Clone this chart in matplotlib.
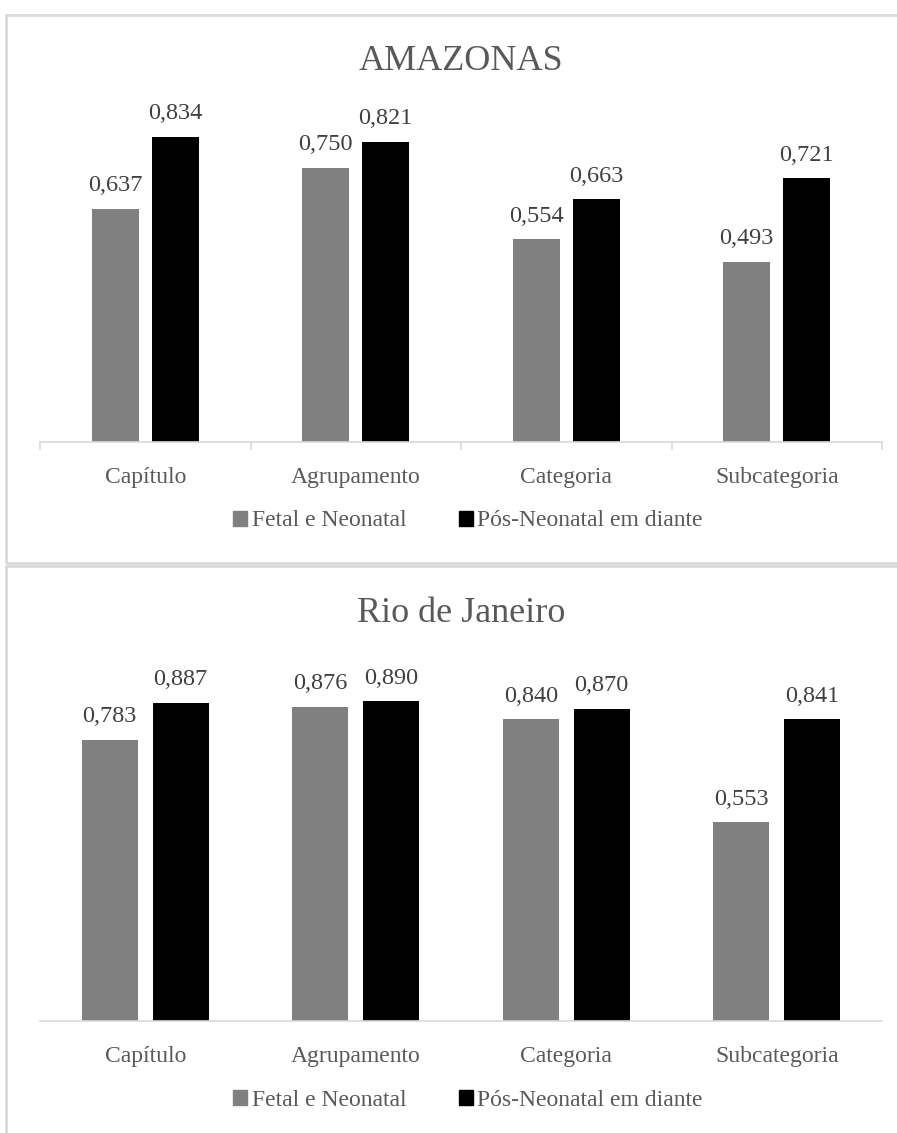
import matplotlib
matplotlib.use("Agg")
import matplotlib.pyplot as plt
from matplotlib.patches import Patch, Rectangle
import numpy as np

plt.rcParams['font.family'] = ['Liberation Serif', 'DejaVu Serif']

categories = ["Capítulo", "Agrupamento", "Categoria", "Subcategoria"]
series_names = ["Fetal e Neonatal", "Pós-Neonatal em diante"]
amazonas_fetal = [0.637, 0.750, 0.554, 0.493]
amazonas_pos = [0.834, 0.821, 0.663, 0.721]
rio_fetal = [0.783, 0.876, 0.840, 0.553]
rio_pos = [0.887, 0.890, 0.870, 0.841]
titles = ["AMAZONAS", "Rio de Janeiro"]

W, H = 897, 1133
fig = plt.figure(figsize=(W / 100, H / 100), dpi=100)

TXT = "#595959"
VAL = "#404040"
GRID = "#d9d9d9"
colors = ["#808080", "#000000"]

def fx(px):
    return px / W

def fy(py):
    return 1 - py / H

# panel frames
fig.patches.append(Rectangle((fx(6), fy(563)), fx(920) - fx(6), fy(15) - fy(563),
                             transform=fig.transFigure, fill=False, ec=GRID, lw=2, zorder=0))
fig.patches.append(Rectangle((fx(6), fy(1150)), fx(920) - fx(6), fy(566) - fy(1150),
                             transform=fig.transFigure, fill=False, ec=GRID, lw=2, zorder=0))

panels = [
    dict(data=(amazonas_fetal, amazonas_pos), base=442, k=366, width=0.223, gap=0.062,
         title_y=61, legend_y=521, ticks=True),
    dict(data=(rio_fetal, rio_pos), base=1021, k=359, width=0.266, gap=0.071,
         title_y=614, legend_y=1100, ticks=False),
]

x = np.arange(len(categories))
for p, title in zip(panels, titles):
    ax = fig.add_axes([fx(40), fy(p['base']), fx(882) - fx(40), p['k'] / H])
    ax.set_xlim(-0.5, len(categories) - 0.5)
    ax.set_ylim(0, 1)
    w, g = p['width'], p['gap']
    offs = [-(w + g) / 2, (w + g) / 2]
    for vals, off, c in zip(p['data'], offs, colors):
        bars = ax.bar(x + off, vals, width=w, color=c, zorder=2)
        for b, v in zip(bars, vals):
            ax.annotate(f"{v:.3f}".replace(".", ","),
                        (b.get_x() + b.get_width() / 2, b.get_height()),
                        xytext=(0, 9), textcoords="offset points",
                        ha="center", va="bottom", fontsize=17.5, color=VAL)
    for s in ["top", "right", "left"]:
        ax.spines[s].set_visible(False)
    ax.spines["bottom"].set_color(GRID)
    ax.spines["bottom"].set_linewidth(1.2)
    ax.set_yticks([])
    ax.set_xticks(x)
    ax.set_xticklabels(categories, fontsize=17, color=TXT)
    ax.tick_params(axis="x", which="major", length=0, pad=18)
    if p['ticks']:
        ax.set_xticks(np.arange(-0.5, len(categories)), minor=True)
        ax.tick_params(axis="x", which="minor", length=6, color=GRID, width=1.2)
    ax.patch.set_alpha(0)
    fig.text(0.5 * (fx(40) + fx(882)), fy(p['title_y']), title, ha="center", va="center",
             fontsize=26, color=TXT)
    handles = [Patch(color=c, label=n) for c, n in zip(colors, series_names)]
    fig.legend(handles=handles, loc="center", bbox_to_anchor=(fx(468), fy(p['legend_y'])),
               ncol=2, frameon=False, fontsize=17, handlelength=0.6, handleheight=0.6,
               handletextpad=0.2, columnspacing=2.2, labelcolor=TXT)

fig.savefig("out.png", dpi=100)
